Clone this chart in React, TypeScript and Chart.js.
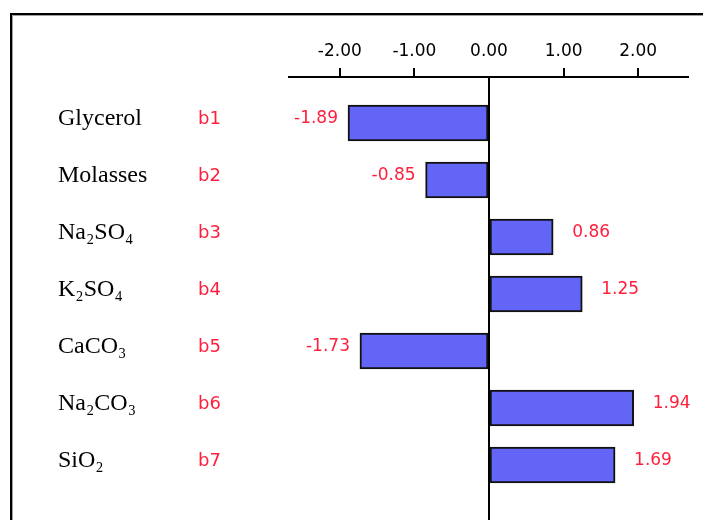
import React, { useEffect, useRef } from "react";
import { Chart, registerables } from "chart.js";

Chart.register(...registerables);

// ---- data ----
const categories = ["Glycerol", "Molasses", "Na₂SO₄", "K₂SO₄", "CaCO₃", "Na₂CO₃", "SiO₂"];
const coefLabels = ["b1", "b2", "b3", "b4", "b5", "b6", "b7"];
const values = [-1.89, -0.85, 0.86, 1.25, -1.73, 1.94, 1.69];
const xTickValues = [-2, -1, 0, 1, 2];

const RED = "#ff1f3c";
const SANS = '"DejaVu Sans", Verdana, sans-serif';
const SERIF = '"Liberation Serif", "Times New Roman", serif';

export default function App() {
  const ref = useRef<HTMLCanvasElement | null>(null);

  useEffect(() => {
    if (!ref.current) return;

    const framePlugin = {
      id: "frame",
      beforeDraw(chart: any) {
        const ctx = chart.ctx;
        ctx.save();
        ctx.fillStyle = "#ffffff";
        ctx.fillRect(0, 0, chart.width, chart.height);
        ctx.strokeStyle = "#a0a0a0";
        ctx.lineWidth = 1;
        ctx.beginPath();
        ctx.moveTo(12.5, chart.height);
        ctx.lineTo(12.5, 15.5);
        ctx.lineTo(chart.width, 15.5);
        ctx.stroke();
        ctx.strokeStyle = "#000000";
        ctx.lineWidth = 2;
        ctx.beginPath();
        ctx.moveTo(11, chart.height);
        ctx.lineTo(11, 14);
        ctx.lineTo(chart.width, 14);
        ctx.stroke();
        ctx.restore();
      },
    };

    const valueLabelPlugin = {
      id: "valueLabels",
      afterDatasetsDraw(chart: any) {
        const ctx = chart.ctx;
        const meta = chart.getDatasetMeta(0);
        ctx.save();
        ctx.font = `17px ${SANS}`;
        ctx.fillStyle = RED;
        ctx.textBaseline = "middle";
        meta.data.forEach((bar: any, i: number) => {
          const v = values[i];
          const neg = v < 0;
          ctx.textAlign = neg ? "right" : "left";
          ctx.fillText(v.toFixed(2), neg ? bar.x - 10 : bar.x + 19, bar.y - 4);
        });
        ctx.restore();
      },
    };

    const yMin = -46 / 57;
    const yMax = 397 / 57;

    const chart = new Chart(ref.current, {
      type: "bar",
      data: {
        datasets: [
          {
            data: values.map((v, i) => ({ x: v, y: i })),
            backgroundColor: "#6365f6",
            borderColor: "#111111",
            borderWidth: 2,
            borderSkipped: false,
            barThickness: 36,
            yAxisID: "y",
            xAxisID: "x",
          },
        ],
      },
      options: {
        indexAxis: "y",
        animation: false,
        responsive: false,
        devicePixelRatio: 1,
        layout: { padding: { left: 58, top: 37, right: 15.5, bottom: 0 } },
        plugins: {
          legend: { display: false },
          tooltip: { enabled: false },
          title: { display: false },
        },
        scales: {
          x: {
            type: "linear",
            position: "top",
            offset: false,
            min: -200 / 74.6,
            max: 198.5 / 74.6,
            afterBuildTicks: (scale: any) => {
              scale.ticks = xTickValues.map((v) => ({ value: v }));
            },
            afterFit: (scale: any) => {
              scale.height = 40;
              scale.paddingLeft = 0;
              scale.paddingRight = 0;
            },
            ticks: {
              callback: (v: any) => Number(v).toFixed(2),
              color: "#000000",
              font: { family: SANS, size: 17 },
              padding: 6,
              autoSkip: false,
              maxRotation: 0,
            },
            grid: {
              display: true,
              offset: false,
              drawOnChartArea: true,
              drawTicks: true,
              tickLength: 9,
              lineWidth: 2,
              tickWidth: 2,
              color: (ctx: any) => (ctx.tick && ctx.tick.value === 0 ? "#000000" : "rgba(0,0,0,0)"),
              tickColor: (ctx: any) => (ctx.tick && ctx.tick.value === 0 ? "rgba(0,0,0,0)" : "#000000"),
            },
            border: { display: true, color: "#000000", width: 2 },
          },
          y: {
            type: "linear",
            position: "left",
            weight: 2,
            offset: false,
            reverse: true,
            min: yMin,
            max: yMax,
            afterBuildTicks: (scale: any) => {
              scale.ticks = categories.map((_, i) => ({ value: i }));
            },
            afterFit: (scale: any) => {
              scale.width = 140;
              scale.paddingTop = 0;
              scale.paddingBottom = 0;
            },
            ticks: {
              callback: (v: any) => categories[v] ?? "",
              crossAlign: "far",
              labelOffset: -4,
              color: "#000000",
              font: { family: SERIF, size: 24 },
              autoSkip: false,
              padding: 0,
            },
            grid: { display: false, drawTicks: false, offset: false },
            border: { display: false },
          },
          y2: {
            type: "linear",
            position: "left",
            weight: 1,
            offset: false,
            reverse: true,
            min: yMin,
            max: yMax,
            afterBuildTicks: (scale: any) => {
              scale.ticks = coefLabels.map((_, i) => ({ value: i }));
            },
            afterFit: (scale: any) => {
              scale.width = 91;
              scale.paddingTop = 0;
              scale.paddingBottom = 0;
            },
            ticks: {
              callback: (v: any) => coefLabels[v] ?? "",
              crossAlign: "far",
              labelOffset: -4,
              color: RED,
              font: { family: SANS, size: 18 },
              autoSkip: false,
              padding: 0,
            },
            grid: { display: false, drawTicks: false, offset: false },
            border: { display: false },
          },
        },
      },
      plugins: [framePlugin, valueLabelPlugin],
    } as any);

    return () => chart.destroy();
  }, []);

  return (
    <div style={{ position: "absolute", left: 0, top: 0, width: 703, height: 520, overflow: "hidden" }}>
      <canvas ref={ref} width={703} height={520} style={{ display: "block", width: 703, height: 520 }} />
    </div>
  );
}
